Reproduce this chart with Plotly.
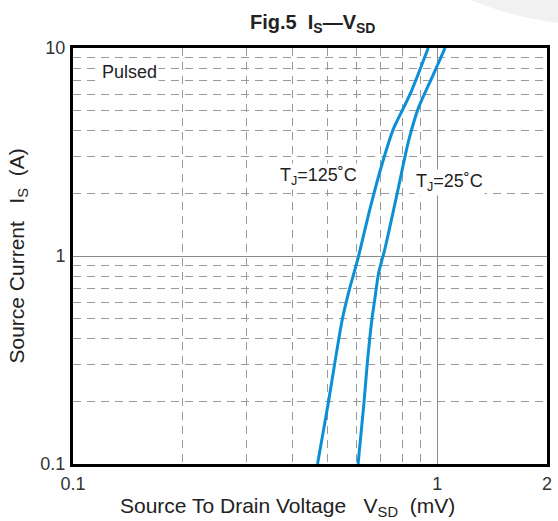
import plotly.graph_objects as go

# Data (log-log)
vsd_125 = [0.469, 0.502, 0.521, 0.548, 0.573, 0.606, 0.653, 0.704, 0.759, 0.783, 0.849, 0.944]
is_125 = [0.1, 0.1965, 0.293, 0.4925, 0.686, 0.978, 1.68, 2.74, 4.12, 4.61, 6.21, 10.0]
vsd_25 = [0.606, 0.629, 0.641, 0.661, 0.673, 0.690, 0.717, 0.773, 0.833, 0.887, 0.968, 1.05]
is_25 = [0.1, 0.1965, 0.293, 0.4925, 0.614, 0.829, 1.07, 1.94, 3.55, 5.14, 7.25, 10.0]

x_ticks = [0.1, 1, 2]
x_ticklabels = ["0.1", "1", "2"]
y_ticks = [0.1, 1, 10]
y_ticklabels = ["0.1", "1", "10"]
x_minor = [0.2, 0.3, 0.4, 0.5, 0.6, 0.7, 0.8, 0.9]
y_minor = [0.2, 0.3, 0.4, 0.5, 0.6, 0.7, 0.8, 0.9, 2, 3, 4, 5, 6, 7, 8, 9]

FONT = "Liberation Sans, Arial, sans-serif"
BLUE = "#0C8FD6"
GRID = "#9a9a9a"

fig = go.Figure()
fig.add_trace(go.Scatter(x=vsd_125, y=is_125, mode="lines", line=dict(color=BLUE, width=3, shape="spline", smoothing=0.7),
                         showlegend=False, hoverinfo="skip"))
fig.add_trace(go.Scatter(x=vsd_25, y=is_25, mode="lines", line=dict(color=BLUE, width=3, shape="spline", smoothing=0.7),
                         showlegend=False, hoverinfo="skip"))

axis_common = dict(
    type="log", showline=True, linecolor="black", linewidth=3, mirror=True,
    ticks="", showgrid=True, gridcolor="#8c8c8c", gridwidth=1.3, zeroline=False,
    tickfont=dict(family=FONT, size=18, color="#333333"),
)
fig.update_xaxes(**axis_common, range=[-1, 0.30103], tickmode="array", tickvals=x_ticks, ticktext=x_ticklabels,
                 ticklabelstandoff=1,
                 minor=dict(tickmode="array", tickvals=x_minor, showgrid=True, griddash="8px,6px",
                            gridcolor=GRID, gridwidth=1.3, ticks=""))
fig.update_yaxes(**axis_common, range=[-1, 1], tickmode="array", tickvals=y_ticks, ticktext=y_ticklabels,
                 ticklabelstandoff=1,
                 minor=dict(tickmode="array", tickvals=y_minor, showgrid=True, griddash="8px,6px",
                            gridcolor=GRID, gridwidth=1.3, ticks=""))

annos = [
    dict(text="<b>Fig.5\u00a0\u00a0I<sub>S</sub>—V<sub>SD</sub></b>", x=0.505, y=1.058, size=20),
    dict(text="Source To Drain Voltage\u00a0\u00a0\u00a0V<sub>SD</sub>\u00a0\u00a0(mV)", x=0.453, y=-0.104, size=21),
    dict(text="Pulsed", x=0.119, y=0.942, size=18, bg="white"),
    dict(text="T<sub>J</sub>=125˚C", x=0.5176, y=0.6923, size=18, bg="white"),
    dict(text="T<sub>J</sub>=25˚C", x=0.794, y=0.6755, size=18, bg="white"),
]
for a in annos:
    fig.add_annotation(text=a["text"], x=a["x"], y=a["y"], xref="paper", yref="paper",
                       xanchor="center", yanchor="middle", showarrow=False,
                       font=dict(family=FONT, size=a["size"], color="#222222"),
                       bgcolor=a.get("bg", "rgba(0,0,0,0)"), borderpad=1)
fig.add_annotation(text="Source Current\u00a0\u00a0\u00a0I<sub>S</sub>\u00a0\u00a0(A)", x=-0.117, y=0.5,
                   xref="paper", yref="paper", textangle=-90, showarrow=False,
                   xanchor="center", yanchor="middle", font=dict(family=FONT, size=21, color="#222222"))

# faint decorative circle at top right of the page
fig.add_shape(type="circle", xref="paper", yref="paper", x0=0.4217, x1=1.7787, y0=1.0553, y1=2.618,
              fillcolor="#f1f1f1", line=dict(width=0), layer="below")

fig.update_layout(
    width=558, height=521, margin=dict(l=73, r=6, t=48, b=57),
    paper_bgcolor="white", plot_bgcolor="white", showlegend=False,
)
fig.write_html("out.html")
